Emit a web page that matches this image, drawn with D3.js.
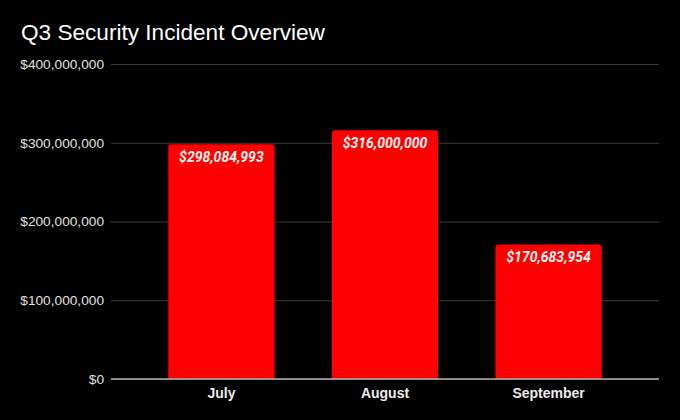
<!DOCTYPE html>
<html>
<head>
<meta charset="utf-8">
<script src="https://cdn.jsdelivr.net/npm/d3@7"></script>
<style>
  html, body { margin: 0; padding: 0; background: #000; }
  svg { display: block; }
</style>
</head>
<body>
<div id="chart"></div>
<script>
const months = ["July", "August", "September"];
const losses = [298084993, 316000000, 170683954];
const yTicks = [0, 100000000, 200000000, 300000000, 400000000];

const w = 680, h = 420;
const margin = {top: 64, right: 21, bottom: 41, left: 111};

const svg = d3.select("#chart")
  .append("svg")
  .attr("width", w)
  .attr("height", h);

svg.append("rect").attr("width", w).attr("height", h).attr("fill", "#000");

svg.append("text")
  .attr("x", 21)
  .attr("y", 40)
  .attr("fill", "#fff")
  .style("font-family", "'Liberation Sans', Arial, sans-serif")
  .style("font-size", "22.6px")
  .text("Q3 Security Incident Overview");

const xScale = d3.scaleBand()
  .domain(months)
  .range([margin.left, w - margin.right])
  .paddingInner(0.35)
  .paddingOuter(0.35);

const yScale = d3.scaleLinear()
  .domain([0, 400000000])
  .range([h - margin.bottom, margin.top]);

const money = d3.format("$,");

// grid + y labels
const yAxis = d3.axisLeft(yScale)
  .tickValues(yTicks)
  .tickSize(-(w - margin.left - margin.right))
  .tickPadding(7)
  .tickFormat(money);

const gy = svg.append("g")
  .attr("transform", "translate(" + margin.left + ",0)")
  .call(yAxis);
gy.select(".domain").remove();
gy.selectAll(".tick line").attr("stroke", "#3c3c3c").attr("stroke-width", 1);
gy.selectAll(".tick text")
  .attr("fill", "#e0e0e0")
  .style("font-family", "'Liberation Sans', Arial, sans-serif")
  .style("font-size", "13.7px");

// bars with rounded top corners
const r = 3;
svg.selectAll("path.bar")
  .data(losses)
  .enter()
  .append("path")
  .attr("class", "bar")
  .attr("fill", "#ff0000")
  .attr("d", (d, i) => {
    const x0 = xScale(months[i]), x1 = x0 + xScale.bandwidth();
    const y0 = yScale(d), yb = yScale(0);
    return "M" + x0 + "," + yb + "V" + (y0 + r) + "Q" + x0 + "," + y0 + " " + (x0 + r) + "," + y0 +
      "H" + (x1 - r) + "Q" + x1 + "," + y0 + " " + x1 + "," + (y0 + r) + "V" + yb + "Z";
  });

svg.selectAll("text.val")
  .data(losses)
  .enter()
  .append("text")
  .attr("class", "val")
  .attr("x", (d, i) => xScale(months[i]) + xScale.bandwidth() / 2)
  .attr("y", d => yScale(d) + 17.5)
  .attr("text-anchor", "middle")
  .attr("fill", "#f4f4f4")
  .style("font-family", "Roboto, sans-serif")
  .style("font-weight", "bold")
  .style("font-style", "italic")
  .style("font-size", "14px")
  .text(d => money(d));

// x axis
const xAxis = d3.axisBottom(xScale).tickSize(0).tickPadding(9);
const gx = svg.append("g")
  .attr("transform", "translate(0," + (h - margin.bottom) + ")")
  .call(xAxis);
gx.select(".domain").attr("stroke", "#b0b0b0").attr("stroke-width", 1.5)
  .attr("d", "M" + margin.left + ",0H" + (w - margin.right));
gx.selectAll(".tick text")
  .attr("fill", "#ececec")
  .style("font-family", "'Liberation Sans', Arial, sans-serif")
  .style("font-weight", "bold")
  .style("font-size", "14px");
</script>
</body>
</html>
